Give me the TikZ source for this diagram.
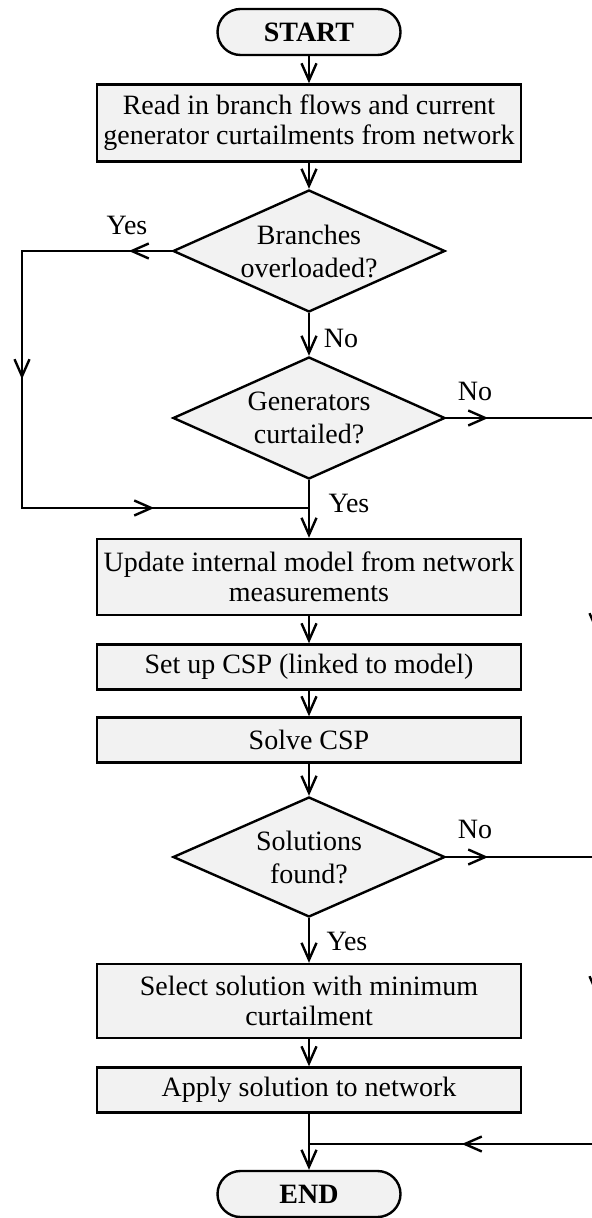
\documentclass[tikz,border=0pt]{standalone}
\usepackage{fontspec}
\setmainfont{Liberation Serif}
\usetikzlibrary{shapes.geometric,arrows.meta,decorations.markings}
\definecolor{boxfill}{RGB}{242,242,242}

\tikzset{
  txt/.style={font=\fontsize{14}{15}\selectfont},
  term/.style={txt, draw, line width=1.2pt, fill=boxfill, rounded corners=11.5pt,
    minimum width=91.5pt, minimum height=23pt, inner sep=0pt,
    font=\fontsize{14}{15}\selectfont\bfseries},
  proc/.style={txt, draw, line width=1.2pt, fill=boxfill, minimum width=212pt,
    inner sep=1pt, align=center},
  dec/.style={diamond, draw, line width=1.2pt, fill=boxfill, aspect=2.2,
    minimum width=136pt, minimum height=61pt, inner sep=0pt, align=center,
    font=\fontsize{14}{16.5}\selectfont},
  lab/.style={txt, inner sep=0pt},
  wire/.style={line width=1.2pt},
  barb/.tip={Straight Barb[length=8.5pt,width=7.5pt]},
  flow/.style={wire, -barb},
  tips3/.style n args={3}{postaction={decorate}, decoration={markings,
    mark=at position #1 with {\arrow[line width=1.2pt]{barb}},
    mark=at position #2 with {\arrow[line width=1.2pt]{barb}},
    mark=at position #3 with {\arrow[line width=1.2pt]{barb}}}},
  tips2/.style 2 args={postaction={decorate}, decoration={markings,
    mark=at position #1 with {\arrow[line width=1.2pt]{barb}},
    mark=at position #2 with {\arrow[line width=1.2pt]{barb}}}},
}

\begin{document}
\begin{tikzpicture}[x=0.5pt,y=-0.5pt]
\useasboundingbox (0,0) rectangle (592,1218);

% main column
\node[term] (start) at (309,32) {START};
\node[proc, minimum height=38.5pt] (read) at (309,123)
  {Read in branch flows and current\\generator curtailments from network};
\node[dec] (over) at (309,251) {Branches\\overloaded?};
\node[dec] (curt) at (309,418) {Generators\\curtailed?};
\node[proc, minimum height=38pt] (update) at (309,577)
  {Update internal model from network\\measurements};
\node[proc, minimum height=22.5pt] (setup) at (309,667) {Set up CSP (linked to model)};
\node[proc, minimum height=22.5pt] (solve) at (309,740) {Solve CSP};
\node[dec, minimum height=60pt] (found) at (309,857) {Solutions\\found?};
\node[proc, minimum height=37pt] (select) at (309,1001)
  {Select solution with minimum\\curtailment};
\node[proc, minimum height=22.5pt] (apply) at (309,1090) {Apply solution to network};
\node[term] (end) at (309,1194) {END};

% branch labels
\node[lab] (yesover) at (127,225) {Yes};
\node[lab] (noover) at (341,338) {No};
\node[lab] (nocurt) at (475,391) {No};
\node[lab] (yescurt) at (349,503) {Yes};
\node[lab] (nofound) at (475,829) {No};
\node[lab] (yesfound) at (347,941) {Yes};

% helper points for the side loops
\coordinate (lx) at (22,0);
\coordinate (rx) at (597,0);
\coordinate (join1) at (309,508);
\coordinate (join2) at (309,1144);

% straight flow
\draw[flow] (start) -- (read);
\draw[flow] (read) -- (over);
\draw[flow] (over) -- (curt);
\draw[flow] (curt) -- (update);
\draw[flow] (update) -- (setup);
\draw[flow] (setup) -- (solve);
\draw[flow] (solve) -- (found);
\draw[flow] (found) -- (select);
\draw[flow] (select) -- (apply);
\draw[flow] (apply) -- (end);

% overload bypass on the left
\draw[wire, tips3={21.5pt}{139pt}{269.5pt}]
  (over.west) -- (over.west -| lx) -- (lx |- join1) -- (join1);

% no-action paths on the right
\draw[wire, tips2={21pt}{183pt}]
  (curt.east) -- (curt.east -| rx) -- (rx |- found.east);
\draw[wire, tips3={21pt}{145pt}{286.5pt}]
  (found.east) -- (found.east -| rx) -- (rx |- join2) -- (join2);
\end{tikzpicture}
\end{document}
